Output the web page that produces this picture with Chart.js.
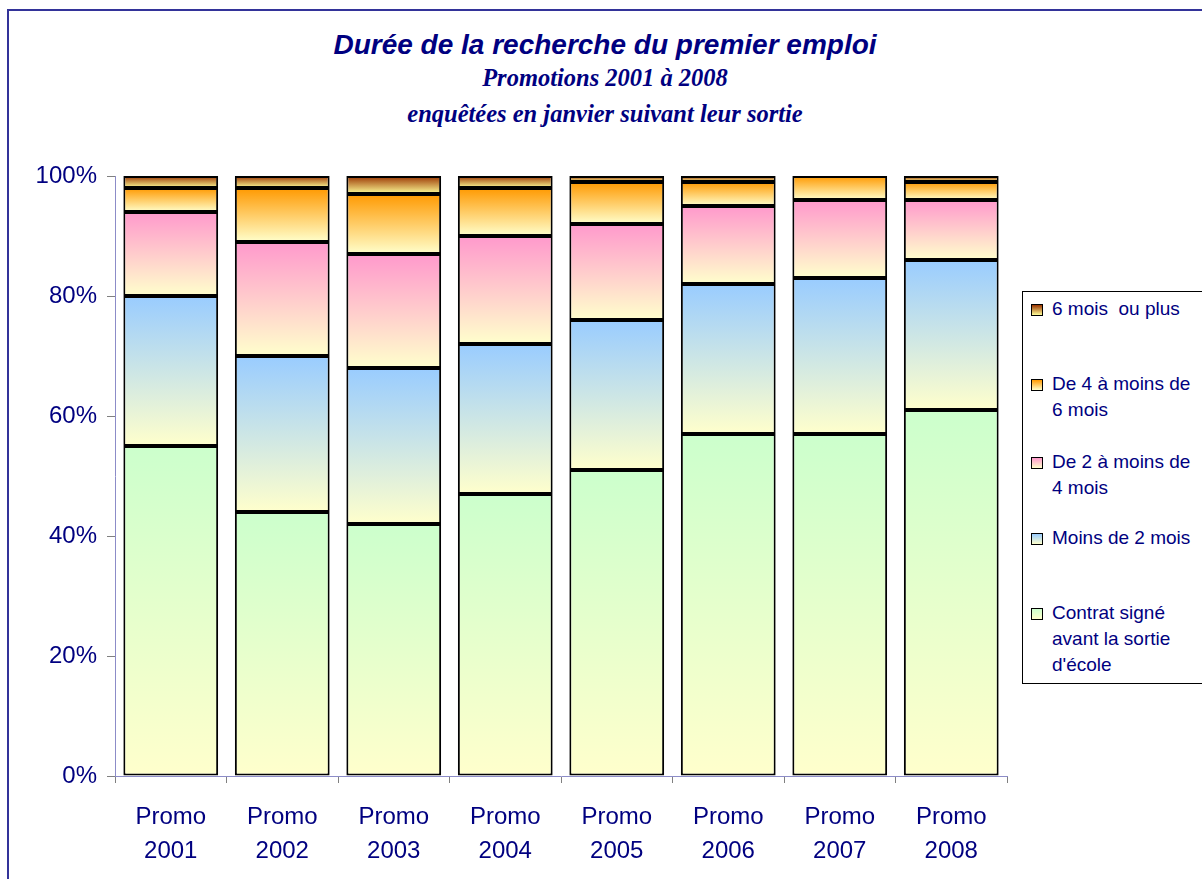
<!DOCTYPE html>
<html>
<head>
<meta charset="utf-8">
<script src="https://cdn.jsdelivr.net/npm/chart.js@4"></script>
<style>
  body { margin: 0; background: #fff; overflow: hidden; }
  #wrap { position: relative; width: 1202px; height: 879px; }
  #frame { position: absolute; left: 7px; top: 9px; width: 1300px; height: 1000px;
           border: 2px solid #333399; box-sizing: border-box; }
  .t { position: absolute; left: 0; width: 1210px; text-align: center; color: #000080;
       font-weight: bold; font-style: italic; white-space: nowrap; }
  #title { top: 29px; font: bold italic 28px "Liberation Sans", Arial, sans-serif; }
  #sub1 { top: 64px; font: bold italic 24.5px "Liberation Serif", "Times New Roman", serif; }
  #sub2 { top: 100px; font: bold italic 24.5px "Liberation Serif", "Times New Roman", serif; }
  #legend { position: absolute; left: 1022px; top: 291px; width: 220px; height: 393px;
            border: 1px solid #000; background: #fff; box-sizing: border-box; }
  .item { position: absolute; left: 0; font: 19px "Liberation Sans", Arial, sans-serif;
          color: #000080; line-height: 26px; }
  .item .mk { position: absolute; left: 8px; top: 8px; width: 10px; height: 10px; border: 1px solid #000; }
  .item .tx { position: absolute; left: 29px; white-space: pre; }
  canvas { position: absolute; left: 0; top: 0; }
</style>
</head>
<body>
<div id="wrap">
  <div id="frame"></div>
  <div class="t" id="title">Durée de la recherche du premier emploi</div>
  <div class="t" id="sub1">Promotions 2001 à 2008</div>
  <div class="t" id="sub2">enquêtées en janvier suivant leur sortie</div>
  <canvas id="chart" width="1202" height="879"></canvas>
  <div id="legend"></div>
</div>
<script>
// categories and series (percent of each promo)
const promos = ['2001', '2002', '2003', '2004', '2005', '2006', '2007', '2008'];
const contratSigne = [55, 44, 42, 47, 51, 57, 57, 61];
const moins2Mois   = [25, 26, 26, 25, 25, 25, 26, 25];
const de2a4Mois    = [14, 19, 19, 18, 16, 13, 13, 10];
const de4a6Mois    = [4, 9, 10, 8, 7, 4, 4, 3];
const sixMoisPlus  = [2, 2, 3, 2, 1, 1, 0, 1];
const yTicks = [0, 20, 40, 60, 80, 100];

const series = [
    { label: 'Contrat signé avant la sortie d\'école', lines: ['Contrat signé', 'avant la sortie', 'd\'école'], data: contratSigne, top: '#ccffcc', bottom: '#ffffcc', ly: 308 },
    { label: 'Moins de 2 mois', lines: ['Moins de 2 mois'], data: moins2Mois, top: '#99ccff', bottom: '#ffffcc', ly: 233 },
    { label: 'De 2 à moins de 4 mois', lines: ['De 2 à moins de', '4 mois'], data: de2a4Mois, top: '#ff99cc', bottom: '#ffffcc', ly: 157 },
    { label: 'De 4 à moins de 6 mois', lines: ['De 4 à moins de', '6 mois'], data: de4a6Mois, top: '#ff9900', bottom: '#ffffcc', ly: 79 },
    { label: '6 mois  ou plus', lines: ['6 mois  ou plus'], data: sixMoisPlus, top: '#993300', bottom: '#ffff99', ly: 4 }
];

// vertical gradient for each stacked segment
function segmentFill(ctx) {
    const s = series[ctx.datasetIndex];
    const chart = ctx.chart;
    const y = chart.scales.y;
    if (!chart.chartArea || !y) return s.top;
    let base = 0;
    for (let k = 0; k < ctx.datasetIndex; k++) base += series[k].data[ctx.dataIndex];
    const top = base + s.data[ctx.dataIndex];
    const y0 = y.getPixelForValue(top);
    const y1 = y.getPixelForValue(base);
    if (!isFinite(y0) || !isFinite(y1) || y0 === y1) return s.top;
    const g = chart.ctx.createLinearGradient(0, y0, 0, y1);
    g.addColorStop(0, s.top);
    g.addColorStop(1, s.bottom);
    return g;
}

const axisFont = { family: '"Liberation Sans", Arial, sans-serif', size: 24 };

const chart = new Chart(document.getElementById('chart').getContext('2d'), {
    type: 'bar',
    data: {
        labels: promos.map(p => ['Promo', p]),
        datasets: series.map(s => ({
            label: s.label,
            data: s.data,
            backgroundColor: segmentFill,
            borderColor: '#000',
            borderWidth: 2,
            borderSkipped: false,
            barPercentage: 0.85,
            categoryPercentage: 1
        }))
    },
    options: {
        responsive: false,
        animation: false,
        layout: { padding: { left: 0, right: 195, top: 176, bottom: 0 } },
        plugins: { legend: { display: false }, tooltip: { enabled: false } },
        scales: {
            x: {
                stacked: true,
                grid: { display: true, drawOnChartArea: false, drawTicks: true, tickLength: 7, color: '#808080' },
                border: { color: '#8c8cc8', width: 1 },
                ticks: { color: '#000080', font: { ...axisFont, lineHeight: 1.42 }, padding: 17, maxRotation: 0 },
                afterFit: s => { s.height = 103; }
            },
            y: {
                stacked: true,
                min: 0,
                max: 100,
                afterBuildTicks: s => { s.ticks = yTicks.map(v => ({ value: v })); },
                grid: { display: true, drawOnChartArea: false, drawTicks: true, tickLength: 8, color: '#808080' },
                border: { color: '#8c8cc8', width: 1 },
                ticks: { color: '#000080', font: axisFont, padding: 10, callback: v => v + '%' },
                afterFit: s => { s.width = 115; }
            }
        }
    }
});

// legend, top entry first as in the original
const legend = document.getElementById('legend');
series.slice().reverse().forEach(s => {
    const it = document.createElement('div');
    it.className = 'item';
    it.style.top = s.ly + 'px';
    const mk = document.createElement('div');
    mk.className = 'mk';
    mk.style.background = 'linear-gradient(' + s.top + ',' + s.bottom + ')';
    const tx = document.createElement('div');
    tx.className = 'tx';
    tx.textContent = s.lines.join('\n');
    it.appendChild(mk);
    it.appendChild(tx);
    legend.appendChild(it);
});
</script>
</body>
</html>
